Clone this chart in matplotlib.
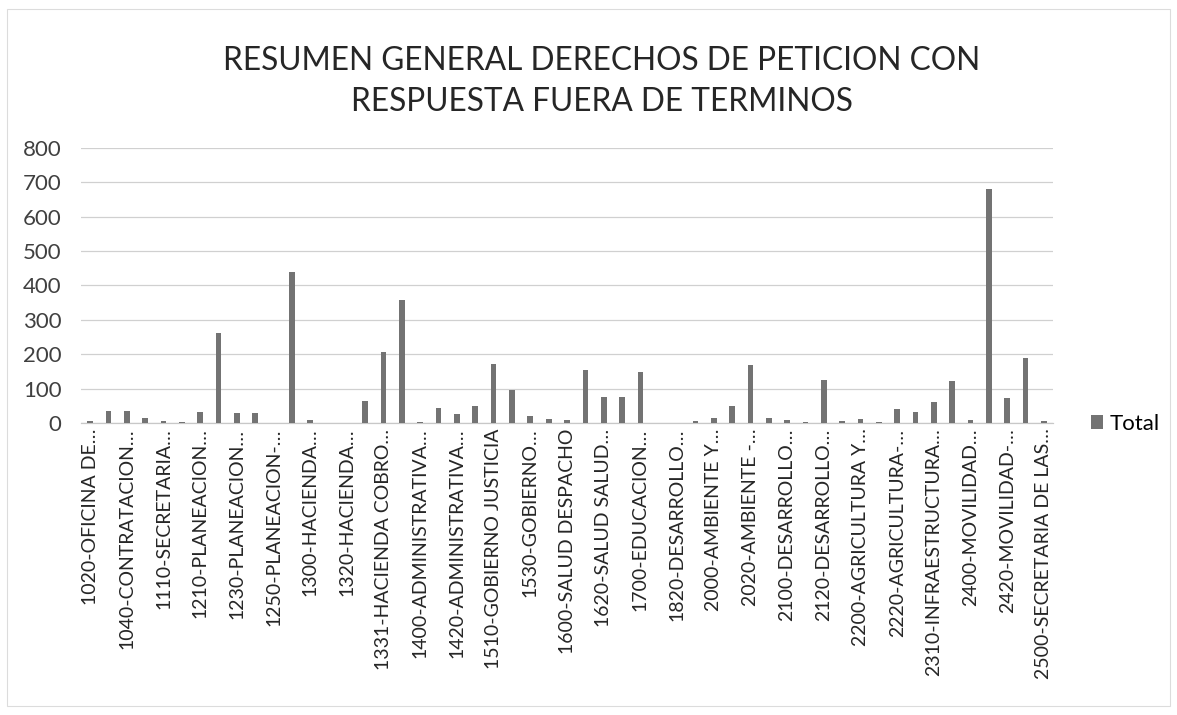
import matplotlib
matplotlib.use("Agg")
import matplotlib.pyplot as plt
import numpy as np

# Derechos de petición respondidos fuera de términos, por dependencia.
# Only every second dependency carries a visible axis label.
TITLE = "RESUMEN GENERAL DERECHOS DE PETICION CON\nRESPUESTA FUERA DE TERMINOS"
SERIES_NAME = "Total"

TOTALS = [5, 34, 35, 15, 6, 4, 32, 262, 29, 29,
          0, 440, 10, 0, 0, 65, 207, 358, 2, 45,
          25, 48, 173, 95, 20, 12, 10, 153, 75, 77,
          148, 0, 0, 6, 15, 50, 168, 14, 10, 3,
          125, 5, 12, 4, 42, 33, 60, 121, 10, 682,
          73, 188, 6]

SHOWN_LABELS = [
    "1020-OFICINA DE…", "1040-CONTRATACION…", "1110-SECRETARIA…",
    "1210-PLANEACION…", "1230-PLANEACION…", "1250-PLANEACION-…",
    "1300-HACIENDA…", "1320-HACIENDA…", "1331-HACIENDA COBRO…",
    "1400-ADMINISTRATIVA…", "1420-ADMINISTRATIVA…", "1510-GOBIERNO JUSTICIA",
    "1530-GOBIERNO…", "1600-SALUD DESPACHO", "1620-SALUD SALUD…",
    "1700-EDUCACION…", "1820-DESARROLLO…", "2000-AMBIENTE Y…",
    "2020-AMBIENTE -…", "2100-DESARROLLO…", "2120-DESARROLLO…",
    "2200-AGRICULTURA Y…", "2220-AGRICULTURA-…", "2310-INFRAESTRUCTURA…",
    "2400-MOVILIDAD…", "2420-MOVILIDAD-…", "2500-SECRETARIA DE LAS…",
]
Y_TICKS = [0, 100, 200, 300, 400, 500, 600, 700, 800]

plt.rcParams["font.family"] = ["Lato", "DejaVu Sans"]

fig = plt.figure(figsize=(11.77, 7.15), dpi=100)
ax = fig.add_axes([0.0688, 0.4084, 0.8259, 0.3846])

x = np.arange(len(TOTALS))
bars = ax.bar(x, TOTALS, width=0.31, color="#737373", label=SERIES_NAME, zorder=3)

ax.set_xlim(-0.5, len(TOTALS) - 0.5)
ax.set_ylim(0, 800)
ax.set_yticks(Y_TICKS)
ax.set_yticklabels([str(v) for v in Y_TICKS], fontsize=16, color="#404040")
ax.set_xticks(x[::2])
ax.set_xticklabels(SHOWN_LABELS, rotation=90, fontsize=14, color="#262626",
                   ha="center", va="top")
ax.tick_params(axis="y", length=0, pad=14)
ax.tick_params(axis="x", length=0, pad=4)

ax.grid(axis="y", color="#d0d0d0", linewidth=0.9, zorder=0)
for side in ("left", "right", "top"):
    ax.spines[side].set_visible(False)
ax.spines["bottom"].set_color("#c8c8c8")
ax.spines["bottom"].set_linewidth(0.9)

fig.text(0.511, 0.935, TITLE, ha="center", va="top", fontsize=22.8,
         color="#262626", linespacing=1.45)

fig.legend(handles=[bars], labels=[SERIES_NAME], loc="center left",
           bbox_to_anchor=(0.91, 0.407), frameon=False, fontsize=16,
           handlelength=0.55, handleheight=0.55, handletextpad=0.3)

# faint outline of the chart area
fig.patches.append(plt.Rectangle((0.006, 0.012), 0.988, 0.976,
                                 transform=fig.transFigure, fill=False,
                                 edgecolor="#dcdcdc", linewidth=0.8))

fig.savefig("out.png", dpi=100)
